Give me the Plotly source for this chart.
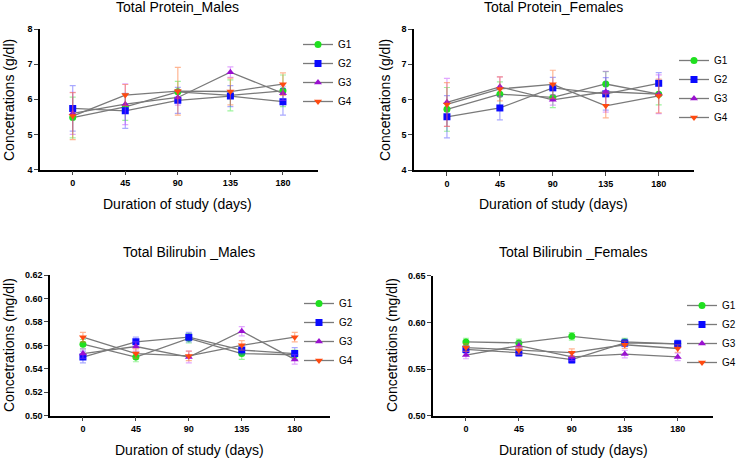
import plotly.graph_objects as go

days = [0, 45, 90, 135, 180]
groups = ["G1", "G2", "G3", "G4"]

# Total protein, males (g/dl): mean and SD per group
prot_m_g1 = [5.48, 5.78, 6.21, 6.11, 6.24]
prot_m_g1_sd = [0.58, 0.38, 0.30, 0.44, 0.45]
prot_m_g2 = [5.74, 5.67, 5.97, 6.09, 5.93]
prot_m_g2_sd = [0.65, 0.50, 0.37, 0.30, 0.38]
prot_m_g3 = [5.60, 5.86, 6.05, 6.77, 6.17]
prot_m_g3_sd = [0.60, 0.58, 0.22, 0.15, 0.20]
prot_m_g4 = [5.52, 6.12, 6.23, 6.22, 6.43]
prot_m_g4_sd = [0.67, 0.30, 0.68, 0.38, 0.32]

# Total protein, females (g/dl)
prot_f_g1 = [5.72, 6.15, 6.06, 6.44, 6.15]
prot_f_g1_sd = [0.62, 0.35, 0.29, 0.35, 0.30]
prot_f_g2 = [5.51, 5.76, 6.33, 6.16, 6.46]
prot_f_g2_sd = [0.60, 0.34, 0.30, 0.46, 0.30]
prot_f_g3 = [5.92, 6.36, 5.99, 6.22, 6.15]
prot_f_g3_sd = [0.68, 0.28, 0.15, 0.58, 0.55]
prot_f_g4 = [5.86, 6.30, 6.43, 5.82, 6.10]
prot_f_g4_sd = [0.62, 0.34, 0.40, 0.34, 0.48]

# Total bilirubin, males (mg/dl)
bili_m_g1 = [0.561, 0.550, 0.566, 0.553, 0.552]
bili_m_g1_sd = [0.004, 0.004, 0.004, 0.005, 0.004]
bili_m_g2 = [0.550, 0.563, 0.567, 0.556, 0.553]
bili_m_g2_sd = [0.005, 0.004, 0.004, 0.004, 0.005]
bili_m_g3 = [0.553, 0.559, 0.550, 0.572, 0.548]
bili_m_g3_sd = [0.004, 0.004, 0.005, 0.004, 0.004]
bili_m_g4 = [0.567, 0.553, 0.551, 0.560, 0.567]
bili_m_g4_sd = [0.004, 0.004, 0.004, 0.004, 0.004]

# Total bilirubin, females (mg/dl)
bili_f_g1 = [0.579, 0.578, 0.585, 0.579, 0.577]
bili_f_g1_sd = [0.004, 0.004, 0.004, 0.004, 0.003]
bili_f_g2 = [0.571, 0.5675, 0.560, 0.578, 0.577]
bili_f_g2_sd = [0.004, 0.004, 0.004, 0.004, 0.004]
bili_f_g3 = [0.565, 0.575, 0.563, 0.566, 0.563]
bili_f_g3_sd = [0.004, 0.004, 0.004, 0.004, 0.004]
bili_f_g4 = [0.573, 0.570, 0.5675, 0.576, 0.572]
bili_f_g4_sd = [0.004, 0.004, 0.004, 0.004, 0.004]

marker_colors = ["#1fe01f", "#0a0aff", "#9a10d0", "#ff4a10"]
error_colors = ["rgba(40,230,40,0.45)", "rgba(40,40,255,0.4)",
                "rgba(190,60,255,0.45)", "rgba(255,110,40,0.5)"]
symbols = ["circle", "square", "triangle-up", "triangle-down"]

FONT = "Liberation Sans, Arial, sans-serif"

panels = [
    dict(means=[prot_m_g1, prot_m_g2, prot_m_g3, prot_m_g4],
         sds=[prot_m_g1_sd, prot_m_g2_sd, prot_m_g3_sd, prot_m_g4_sd],
         title="Total Protein_Males", ytitle="Concetrations (g/dl)",
         yrange=[4, 8], dtick=1, fmt="d",
         xdom=[40 / 737, 318 / 737], ydom=[1 - 169.5 / 459, 1 - 29 / 459],
         legend=dict(x=298 / 737, y=1 - 30 / 459),
         title_xy=(177, 7), xt_xy=(177, 204), yt_xy=(9, 100)),
    dict(means=[prot_f_g1, prot_f_g2, prot_f_g3, prot_f_g4],
         sds=[prot_f_g1_sd, prot_f_g2_sd, prot_f_g3_sd, prot_f_g4_sd],
         title="Total Protein_Females", ytitle="Concetrations (g/dl)",
         yrange=[4, 8], dtick=1, fmt="d",
         xdom=[414 / 737, 694 / 737], ydom=[1 - 170 / 459, 1 - 29 / 459],
         legend=dict(x=674 / 737, y=1 - 46 / 459),
         title_xy=(553, 7), xt_xy=(553, 204), yt_xy=(385, 100)),
    dict(means=[bili_m_g1, bili_m_g2, bili_m_g3, bili_m_g4],
         sds=[bili_m_g1_sd, bili_m_g2_sd, bili_m_g3_sd, bili_m_g4_sd],
         title="Total Bilirubin _Males", ytitle="Concetrations (mg/dl)",
         yrange=[0.50, 0.62], dtick=0.02, fmt=".2f",
         xdom=[50 / 737, 330 / 737], ydom=[1 - 415.7 / 459, 1 - 275 / 459],
         legend=dict(x=299 / 737, y=1 - 289 / 459),
         title_xy=(189, 252), xt_xy=(189, 450), yt_xy=(9, 345)),
    dict(means=[bili_f_g1, bili_f_g2, bili_f_g3, bili_f_g4],
         sds=[bili_f_g1_sd, bili_f_g2_sd, bili_f_g3_sd, bili_f_g4_sd],
         title="Total Bilirubin _Females", ytitle="Concetrations (mg/dl)",
         yrange=[0.50, 0.65], dtick=0.05, fmt=".2f",
         xdom=[433 / 737, 713 / 737], ydom=[1 - 415.7 / 459, 1 - 275.7 / 459],
         legend=dict(x=682 / 737, y=1 - 291 / 459),
         title_xy=(573, 252), xt_xy=(573, 450), yt_xy=(392, 345)),
]

fig = go.Figure()
annotations = []
layout = {}

for i, p in enumerate(panels):
    n = "" if i == 0 else str(i + 1)
    leg = "legend" + n
    for g in range(4):
        fig.add_trace(go.Scatter(
            x=days, y=p["means"][g], name=groups[g],
            mode="lines+markers",
            xaxis="x" + n, yaxis="y" + n, legend=leg,
            line=dict(color="#7a7a7a", width=1.3),
            marker=dict(symbol=symbols[g], size=7, color=marker_colors[g]),
            error_y=dict(type="data", array=p["sds"][g], color=error_colors[g],
                         thickness=1.2, width=3),
        ))

    layout["xaxis" + n] = dict(
        domain=p["xdom"], anchor="y" + n, range=[-28, 210],
        tickvals=days, ticks="outside", ticklen=4, tickwidth=1.3,
        showline=True, linecolor="black", linewidth=1.5,
        showgrid=False, zeroline=False, automargin=False,
        tickfont=dict(family=FONT, size=9, color="black", weight="bold"),
    )
    layout["yaxis" + n] = dict(
        domain=p["ydom"], anchor="x" + n, range=p["yrange"],
        dtick=p["dtick"], tick0=p["yrange"][0], tickformat=p["fmt"],
        ticks="outside", ticklen=4, tickwidth=1.3,
        showline=True, linecolor="black", linewidth=1.5,
        showgrid=False, zeroline=False, automargin=False,
        tickfont=dict(family=FONT, size=9, color="black", weight="bold"),
    )
    layout[leg] = dict(
        x=p["legend"]["x"], y=p["legend"]["y"], xanchor="left", yanchor="top",
        bgcolor="rgba(0,0,0,0)", font=dict(family=FONT, size=10, color="black"),
        itemclick=False, itemdoubleclick=False,
    )

    tx, ty = p["title_xy"]
    annotations.append(dict(text=p["title"], x=tx / 737, y=1 - ty / 459,
                            xref="paper", yref="paper", showarrow=False,
                            xanchor="center", yanchor="middle",
                            font=dict(family=FONT, size=14, color="black")))
    ax, ay = p["xt_xy"]
    annotations.append(dict(text="Duration of study (days)", x=ax / 737, y=1 - ay / 459,
                            xref="paper", yref="paper", showarrow=False,
                            xanchor="center", yanchor="middle",
                            font=dict(family=FONT, size=14, color="black")))
    yx, yy = p["yt_xy"]
    annotations.append(dict(text=p["ytitle"], x=yx / 737, y=1 - yy / 459,
                            xref="paper", yref="paper", showarrow=False,
                            xanchor="center", yanchor="middle", textangle=-90,
                            font=dict(family=FONT, size=14, color="black")))

fig.update_layout(
    width=737, height=459,
    margin=dict(l=0, r=0, t=0, b=0, autoexpand=False),
    paper_bgcolor="white", plot_bgcolor="white",
    showlegend=True,
    annotations=annotations,
    **layout,
)

# drop the browser's default body margin so the figure sits at the top-left corner
fig.write_html("out.html", config={"displayModeBar": False},
               post_script="document.body.style.margin='0';")
